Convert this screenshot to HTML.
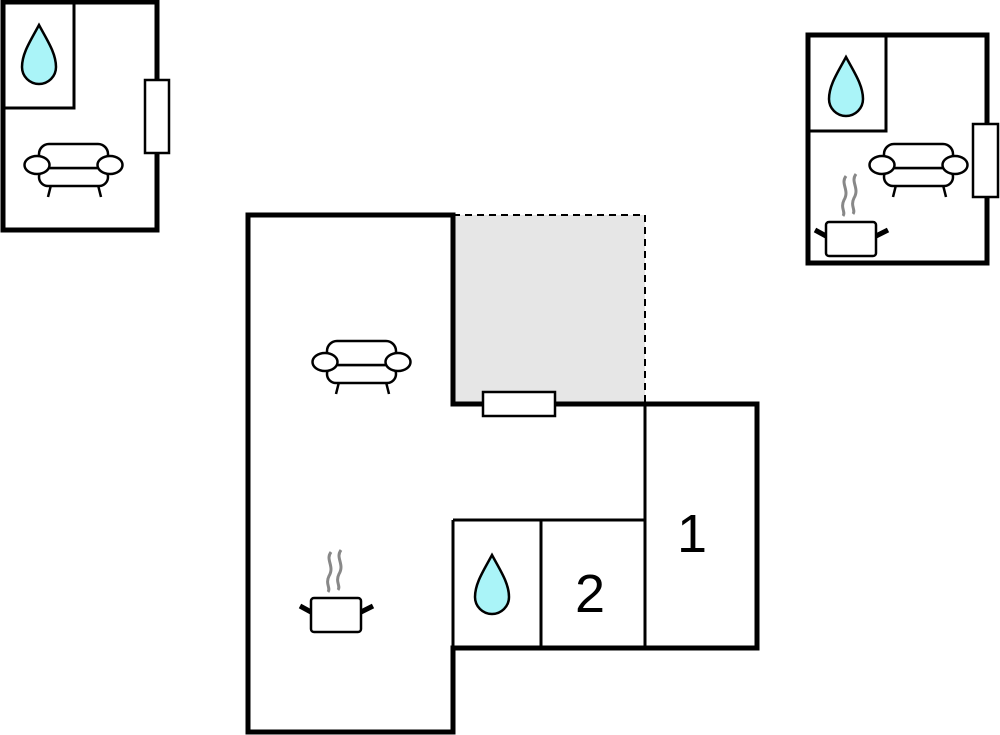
<!DOCTYPE html>
<html><head><style>body{margin:0;background:#fff}svg{display:block}</style></head><body>
<svg width="1000" height="735" viewBox="0 0 1000 735" xmlns="http://www.w3.org/2000/svg">
<defs>
<g id="sofa" fill="#fff" stroke="#000" stroke-width="2.5">
<line x1="-22" y1="20" x2="-25" y2="32"/><line x1="25" y1="20" x2="28" y2="32"/>
<rect x="-34" y="3" width="69" height="18" rx="9"/>
<rect x="-34" y="-21" width="69" height="24" rx="10"/>
<ellipse cx="-36" cy="0" rx="12.5" ry="9"/><ellipse cx="37" cy="0" rx="12.5" ry="9"/>
</g>
<g id="drop"><path d="M0,-30 C-8,-15 -17,-2 -17,12 A17,17 0 0 0 17,12 C17,-2 8,-15 0,-30 Z" fill="#aaf4f8" stroke="#000" stroke-width="2.5"/></g>
<g id="pot">
<path d="M31,-46 c-6,8 4,14 -2,24 c-4,8 2,12 -1,16 M41,-48 c-6,8 4,14 -2,24 c-4,8 2,12 -1,16" fill="none" stroke="#888" stroke-width="3"/>
<line x1="0" y1="8" x2="11" y2="14" stroke="#000" stroke-width="5"/>
<line x1="61" y1="14" x2="73" y2="8" stroke="#000" stroke-width="5"/>
<rect x="11" y="0" width="50" height="34" rx="3" fill="#fff" stroke="#000" stroke-width="2.5"/>
</g>
</defs>

<!-- main -->
<rect x="453" y="215" width="192" height="189" fill="#e6e6e6"/>
<path d="M453,215 H645 V404" fill="none" stroke="#000" stroke-width="2" stroke-dasharray="7,5"/>
<path d="M453,520 H645 M453,520 V648 M541,520 V648 M645,404 V648" stroke="#000" stroke-width="3" fill="none"/>
<path d="M248,215 H453 V404 H757 V648 H453 V732 H248 Z" fill="none" stroke="#000" stroke-width="5"/>
<rect x="483" y="392" width="72" height="24" fill="#fff" stroke="#000" stroke-width="2.5"/>
<text x="692" y="552" font-family="Liberation Sans, sans-serif" font-size="54" text-anchor="middle">1</text>
<text x="590" y="612" font-family="Liberation Sans, sans-serif" font-size="54" text-anchor="middle">2</text>
<use href="#drop" x="492" y="585"/>
<use href="#sofa" x="361" y="362"/>
<use href="#pot" x="300" y="598"/>

<!-- top-left -->
<rect x="3" y="2" width="154" height="228" fill="none" stroke="#000" stroke-width="5"/>
<path d="M3,108 H74 V2" fill="none" stroke="#000" stroke-width="3"/>
<rect x="145" y="80" width="24" height="73" fill="#fff" stroke="#000" stroke-width="2.5"/>
<use href="#drop" x="39" y="55"/>
<use href="#sofa" x="73" y="165"/>

<!-- top-right -->
<rect x="808" y="35" width="179" height="228" fill="none" stroke="#000" stroke-width="5"/>
<path d="M808,131 H886 V35" fill="none" stroke="#000" stroke-width="3"/>
<rect x="973" y="124" width="25" height="73" fill="#fff" stroke="#000" stroke-width="2.5"/>
<use href="#drop" x="846" y="87"/>
<use href="#sofa" x="918" y="165"/>
<use href="#pot" x="815" y="222"/>
</svg>
</body></html>
